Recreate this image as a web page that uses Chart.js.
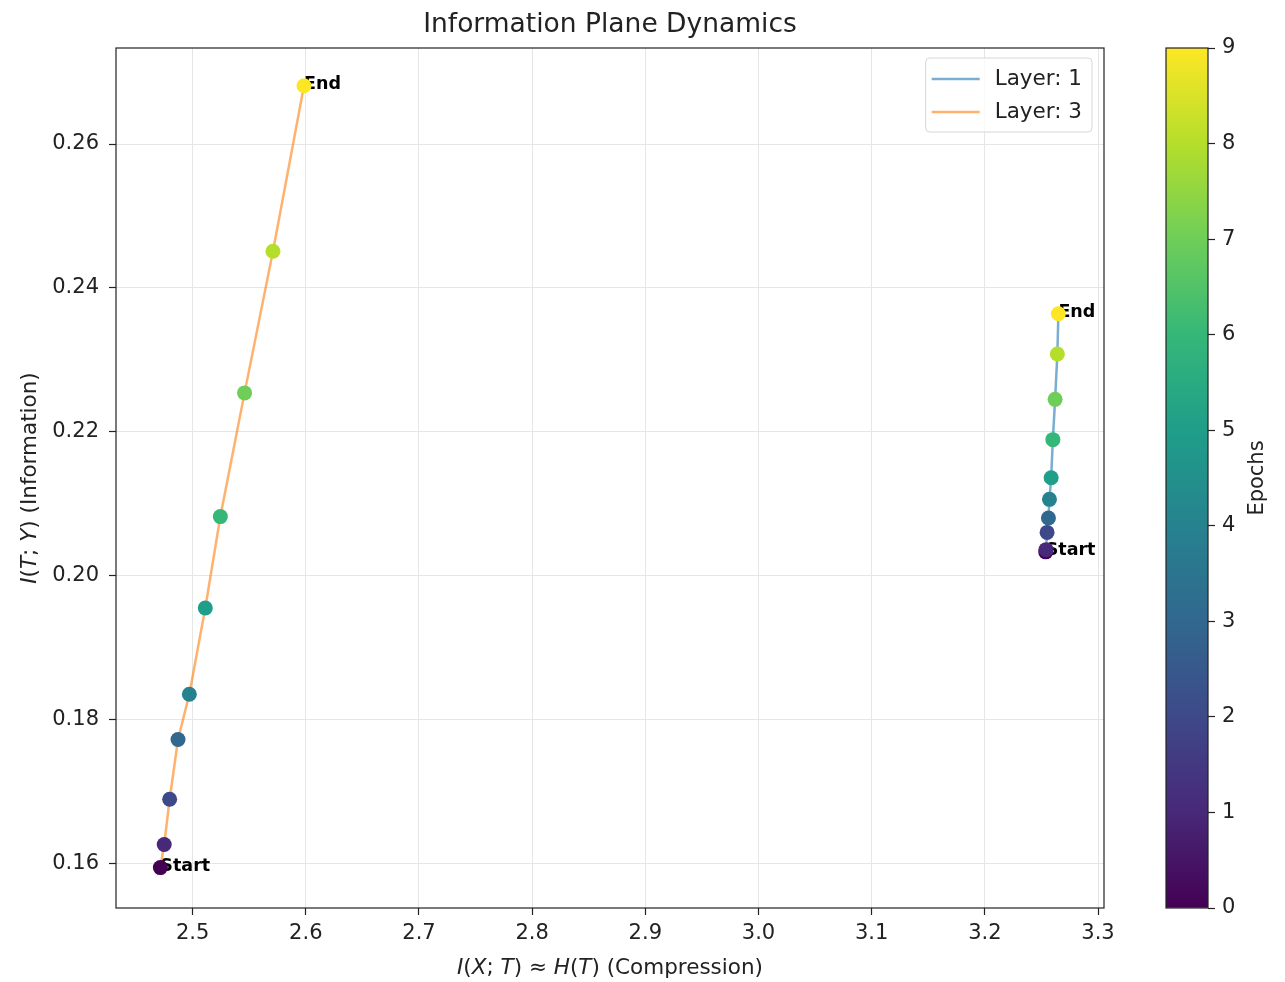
<!DOCTYPE html>
<html>
<head>
<meta charset="utf-8">
<script src="https://cdn.jsdelivr.net/npm/chart.js@4.4.1/dist/chart.umd.min.js"></script>
<style>
  body { margin: 0; background: #fff; }
  #wrap { position: relative; width: 1285px; height: 982px; }
  #main { position: absolute; left: 0; top: 0; }
  #cbar { position: absolute; left: 1140px; top: 0; }
</style>
</head>
<body>
<div id="wrap">
  <canvas id="main" width="1140" height="982"></canvas>
  <canvas id="cbar" width="145" height="982"></canvas>
</div>
<script>
'use strict'

// data
const epochs = [0, 1, 2, 3, 4, 5, 6, 7, 8, 9]
const layer1X = [3.2538, 3.2541, 3.2550, 3.2562, 3.2571, 3.2586, 3.2601, 3.2621, 3.2641, 3.2650]
const layer1Y = [0.2033, 0.2036, 0.2060, 0.2080, 0.2106, 0.2136, 0.2189, 0.2245, 0.2308, 0.2364]
const layer3X = [2.4715, 2.4749, 2.4797, 2.4871, 2.4971, 2.5112, 2.5245, 2.5459, 2.5710, 2.5984]
const layer3Y = [0.1594, 0.1626, 0.1689, 0.1772, 0.1835, 0.1955, 0.2082, 0.2254, 0.2451, 0.2681]

const xTicks = [2.5, 2.6, 2.7, 2.8, 2.9, 3.0, 3.1, 3.2, 3.3]
const yTicks = [0.16, 0.18, 0.20, 0.22, 0.24, 0.26]
const epochTicks = [0, 1, 2, 3, 4, 5, 6, 7, 8, 9]

// viridis sampled at i/9
const viridis = ['#440154', '#482878', '#3e4989', '#31688e', '#26828e',
    '#1f9e89', '#35b779', '#6ece58', '#b5de2b', '#fde725']

const FONT = "'DejaVu Sans', sans-serif"
const TEXT = '#222'
const layer1Line = 'rgba(31,119,180,0.6)'
const layer3Line = 'rgba(255,127,14,0.6)'

const toPoints = (xs, ys) => xs.map((x, i) => ({ x: x, y: ys[i] }))
const pointColors = epochs.map((e) => viridis[e])

function drawRich(ctx, parts, size) {
    // parts: [text, italic]
    const widths = parts.map(([t, it]) => {
        ctx.font = (it ? 'italic ' : '') + size + 'px ' + FONT
        return ctx.measureText(t).width
    })
    const total = widths.reduce((a, b) => a + b, 0)
    let x = -total / 2
    parts.forEach(([t, it], i) => {
        ctx.font = (it ? 'italic ' : '') + size + 'px ' + FONT
        ctx.fillText(t, x, 0)
        x += widths[i]
    })
}

const decorations = {
    id: 'decorations',
    beforeDatasetsDraw(chart) {
        const { ctx, scales } = chart
        ctx.save()
        ctx.fillStyle = '#000'
        ctx.font = 'bold 17.5px ' + FONT
        ctx.textBaseline = 'alphabetic'
        ctx.textAlign = 'left'
        const notes = [
            ['Start', layer1X[0], layer1Y[0]],
            ['End', layer1X[9], layer1Y[9]],
            ['Start', layer3X[0], layer3Y[0]],
            ['End', layer3X[9], layer3Y[9]]
        ]
        notes.forEach(([t, x, y]) => {
            ctx.fillText(t, scales.x.getPixelForValue(x), scales.y.getPixelForValue(y) + 3)
        })
        ctx.restore()
    },
    afterDraw(chart) {
        const { ctx, chartArea: a } = chart
        ctx.save()
        // frame
        ctx.strokeStyle = '#222'
        ctx.lineWidth = 1.2
        ctx.strokeRect(a.left, a.top, a.right - a.left, a.bottom - a.top)

        // legend
        const items = [['Layer: 1', '#1f77b4'], ['Layer: 3', '#ff7f0e']]
        ctx.font = '21.5px ' + FONT
        const tw = Math.max(...items.map((it) => ctx.measureText(it[0]).width))
        const w = 6 + 48 + 15 + tw + 10
        const h = 74
        const lx = a.right - 12 - w
        const ly = a.top + 10
        ctx.beginPath()
        ctx.roundRect(lx, ly, w, h, 4)
        ctx.fillStyle = 'rgba(255,255,255,0.8)'
        ctx.fill()
        ctx.strokeStyle = '#d6d6d6'
        ctx.lineWidth = 1
        ctx.stroke()
        items.forEach(([label, col], i) => {
            const cy = ly + 21 + i * 33
            ctx.strokeStyle = col
            ctx.globalAlpha = 0.6
            ctx.lineWidth = 2.5
            ctx.beginPath()
            ctx.moveTo(lx + 6, cy)
            ctx.lineTo(lx + 54, cy)
            ctx.stroke()
            ctx.globalAlpha = 1
            ctx.fillStyle = TEXT
            ctx.textBaseline = 'middle'
            ctx.textAlign = 'left'
            ctx.fillText(label, lx + 69, cy)
        })

        // axis titles
        ctx.fillStyle = TEXT
        ctx.textBaseline = 'middle'
        ctx.textAlign = 'left'
        ctx.save()
        ctx.translate((a.left + a.right) / 2, 968)
        drawRich(ctx, [['I', true], ['(', false], ['X', true], ['; ', false], ['T', true],
            [') \u2248 ', false], ['H', true], ['(', false], ['T', true], [') (Compression)', false]], 21.5)
        ctx.restore()
        ctx.save()
        ctx.translate(30, (a.top + a.bottom) / 2)
        ctx.rotate(-Math.PI / 2)
        drawRich(ctx, [['I', true], ['(', false], ['T', true], ['; ', false], ['Y', true],
            [') (Information)', false]], 21.5)
        ctx.restore()
        ctx.restore()
    }
}

new Chart(document.getElementById('main'), {
    type: 'scatter',
    data: {
        datasets: [
            {
                label: 'Layer: 1',
                data: toPoints(layer1X, layer1Y),
                showLine: true,
                borderColor: layer1Line,
                borderWidth: 2.5,
                pointRadius: 7.5,
                pointBorderWidth: 0,
                pointBackgroundColor: pointColors,
                pointHoverRadius: 7.5
            },
            {
                label: 'Layer: 3',
                data: toPoints(layer3X, layer3Y),
                showLine: true,
                borderColor: layer3Line,
                borderWidth: 2.5,
                pointRadius: 7.5,
                pointBorderWidth: 0,
                pointBackgroundColor: pointColors,
                pointHoverRadius: 7.5
            }
        ]
    },
    options: {
        responsive: false,
        animation: false,
        layout: { padding: { left: 0, right: 36, top: 0, bottom: 0 } },
        plugins: {
            legend: { display: false },
            tooltip: { enabled: false },
            title: {
                display: true,
                text: 'Information Plane Dynamics',
                color: TEXT,
                fullSize: false,
                font: { family: FONT, size: 26.5, weight: 'normal', lineHeight: 1.2 },
                padding: { top: 9, bottom: 7.2 }
            }
        },
        scales: {
            x: {
                type: 'linear',
                min: 2.4323,
                max: 3.3053,
                afterBuildTicks: (s) => { s.ticks = xTicks.map((v) => ({ value: v })) },
                afterFit: (s) => { s.height = 74 },
                border: { display: false },
                grid: { color: '#e6e6e6', lineWidth: 1, tickColor: TEXT, tickLength: 7, tickWidth: 1.2 },
                ticks: {
                    color: TEXT,
                    padding: 6,
                    maxRotation: 0,
                    font: { family: FONT, size: 21 },
                    callback: (v) => Number(v).toFixed(1)
                }
            },
            y: {
                type: 'linear',
                min: 0.15378,
                max: 0.27335,
                afterBuildTicks: (s) => { s.ticks = yTicks.map((v) => ({ value: v })) },
                afterFit: (s) => { s.width = 116 },
                border: { display: false },
                grid: { color: '#e6e6e6', lineWidth: 1, tickColor: TEXT, tickLength: 7, tickWidth: 1.2 },
                ticks: {
                    color: TEXT,
                    padding: 10,
                    font: { family: FONT, size: 21 },
                    callback: (v) => Number(v).toFixed(2)
                }
            }
        }
    },
    plugins: [decorations]
})

// colorbar
const cbarFrame = {
    id: 'cbarFrame',
    afterDraw(chart) {
        const { ctx, chartArea: a } = chart
        ctx.save()
        ctx.strokeStyle = '#222'
        ctx.lineWidth = 1.2
        ctx.strokeRect(a.left, a.top, a.right - a.left, a.bottom - a.top)
        ctx.fillStyle = TEXT
        ctx.font = '21px ' + FONT
        ctx.textAlign = 'center'
        ctx.textBaseline = 'middle'
        ctx.translate(118, (a.top + a.bottom) / 2)
        ctx.rotate(-Math.PI / 2)
        ctx.fillText('Epochs', 0, 0)
        ctx.restore()
    }
}

new Chart(document.getElementById('cbar'), {
    type: 'bar',
    data: {
        labels: ['Epochs'],
        datasets: [{
            data: [[epochs[0], epochs[epochs.length - 1]]],
            barPercentage: 1,
            categoryPercentage: 1,
            borderWidth: 0,
            backgroundColor: (c) => {
                const a = c.chart.chartArea
                if (!a) return viridis[0]
                const g = c.chart.ctx.createLinearGradient(0, a.bottom, 0, a.top)
                viridis.forEach((col, i) => g.addColorStop(i / (viridis.length - 1), col))
                return g
            }
        }]
    },
    options: {
        responsive: false,
        animation: false,
        layout: { padding: { left: 26, right: 0, top: 48, bottom: 74 } },
        plugins: { legend: { display: false }, tooltip: { enabled: false } },
        scales: {
            x: { display: false },
            y: {
                position: 'right',
                min: 0,
                max: 9,
                afterBuildTicks: (s) => { s.ticks = epochTicks.map((v) => ({ value: v })) },
                afterFit: (s) => { s.width = 77 },
                border: { display: false },
                grid: { drawOnChartArea: false, tickColor: TEXT, tickLength: 7, tickWidth: 1.2 },
                ticks: { color: TEXT, padding: 7, font: { family: FONT, size: 21 } }
            }
        }
    },
    plugins: [cbarFrame]
})
</script>
</body>
</html>
